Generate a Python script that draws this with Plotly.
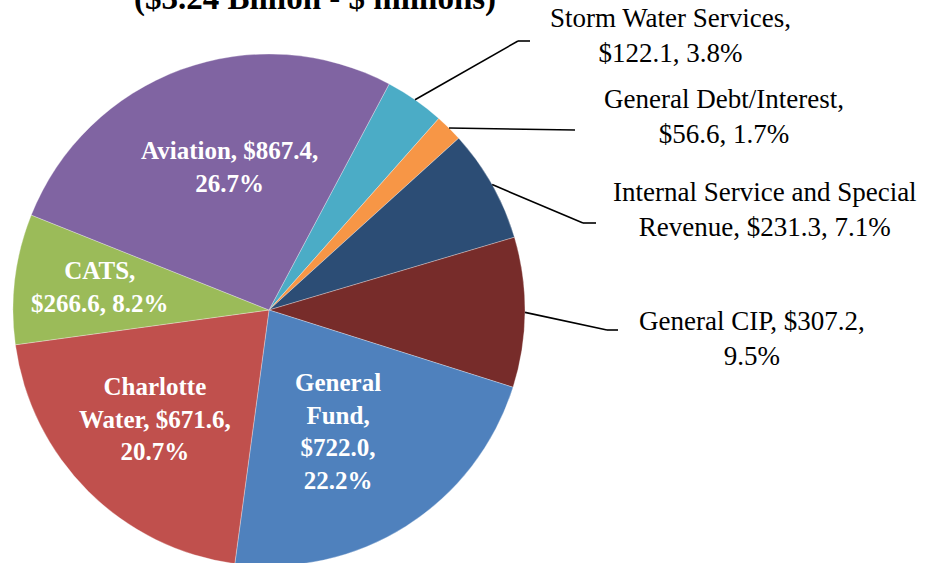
import math
import plotly.graph_objects as go

# ---- data ----
categories = ["Storm Water Services", "General Debt/Interest",
              "Internal Service and Special Revenue", "General CIP",
              "General Fund", "Charlotte Water", "CATS", "Aviation"]
values = [122.1, 56.6, 231.3, 307.2, 722.0, 671.6, 266.6, 867.4]
percents = [3.8, 1.7, 7.1, 9.5, 22.2, 20.7, 8.2, 26.7]
colors = ["#4BACC6", "#F79646", "#2C4D75", "#772C2A",
          "#4F81BD", "#C0504D", "#9BBB59", "#8064A2"]
title_text = "($3.24 Billion - $ millions)"

# label wrapping templates (n = name, v = value, p = percent)
label_templates = [
    "{n},<br>{v}, {p}",
    "{n},<br>{v}, {p}",
    "Internal Service and Special<br>Revenue, {v}, {p}",
    "{n}, {v},<br>{p}",
    "General<br>Fund,<br>{v},<br>{p}",
    "Charlotte<br>Water, {v},<br>{p}",
    "{n},<br>{v}, {p}",
    "{n}, {v},<br>{p}",
]
inside = [False, False, False, False, True, True, True, True]

# ---- layout geometry (pixels) ----
W, H = 931, 570
CX, CY, R = 269, 310, 256
ROT = 28.0

# label centres (px) and leader elbows / ends (px) for outside labels
label_pos = [(670, 36), (724, 117), (765, 209), (752, 338),
             (338, 431), (155, 419), (100, 287), (229, 167)]
elbows = [((518, 41), (530, 41)), ((575, 130), (575, 130)),
          ((583, 223), (596, 223)), ((607, 330), (618, 330)),
          None, None, None, None]


def px(x):
    return x / W


def py(y):
    return 1 - y / H


fig = go.Figure(go.Pie(
    labels=categories, values=values,
    marker=dict(colors=colors, line=dict(color="rgba(255,255,255,0.5)", width=0.6)),
    sort=False, direction="clockwise", rotation=ROT,
    textinfo="none", hoverinfo="label+value+percent",
    domain=dict(x=[px(CX - R), px(CX + R)], y=[py(CY + R), py(CY - R)]),
    showlegend=False,
))

total = sum(values)
annotations = []
shapes = []
cum = 0.0
for i, (n, v, p) in enumerate(zip(categories, values, percents)):
    mid = ROT + (cum + v / 2) / total * 360.0
    cum += v
    txt = label_templates[i].format(n=n, v=f"${v:,.1f}", p=f"{p:.1f}%")
    lx, ly = label_pos[i]
    if inside[i]:
        annotations.append(dict(
            x=px(lx), y=py(ly), xref="paper", yref="paper", text=txt,
            showarrow=False, xanchor="center", yanchor="middle", align="center",
            font=dict(family="Liberation Serif", size=25, color="white", weight="bold")))
    else:
        annotations.append(dict(
            x=px(lx), y=py(ly), xref="paper", yref="paper", text=txt,
            showarrow=False, xanchor="center", yanchor="middle", align="center",
            font=dict(family="Liberation Serif", size=27, color="black")))
        a = math.radians(mid)
        sx, sy = CX + R * math.sin(a), CY - R * math.cos(a)
        (ex, ey), (fx, fy) = elbows[i]
        line = dict(color="black", width=1.6)
        shapes.append(dict(type="line", xref="paper", yref="paper",
                           x0=px(sx), y0=py(sy), x1=px(ex), y1=py(ey), line=line))
        if (fx, fy) != (ex, ey):
            shapes.append(dict(type="line", xref="paper", yref="paper",
                               x0=px(ex), y0=py(ey), x1=px(fx), y1=py(fy), line=line))

annotations.append(dict(
    x=px(315), y=py(19), xref="paper", yref="paper", text=title_text,
    showarrow=False, xanchor="center", yanchor="bottom",
    font=dict(family="Liberation Serif", size=33, color="black", weight="bold")))

fig.update_layout(
    width=W, height=H,
    margin=dict(l=0, r=0, t=0, b=0),
    paper_bgcolor="white", plot_bgcolor="white",
    annotations=annotations, shapes=shapes,
)

fig.write_html("out.html", config={"displayModeBar": False}, post_script=(
    "document.body.style.margin='0';"
    "document.body.style.overflow='hidden';"
    "document.documentElement.style.overflow='hidden';"))
